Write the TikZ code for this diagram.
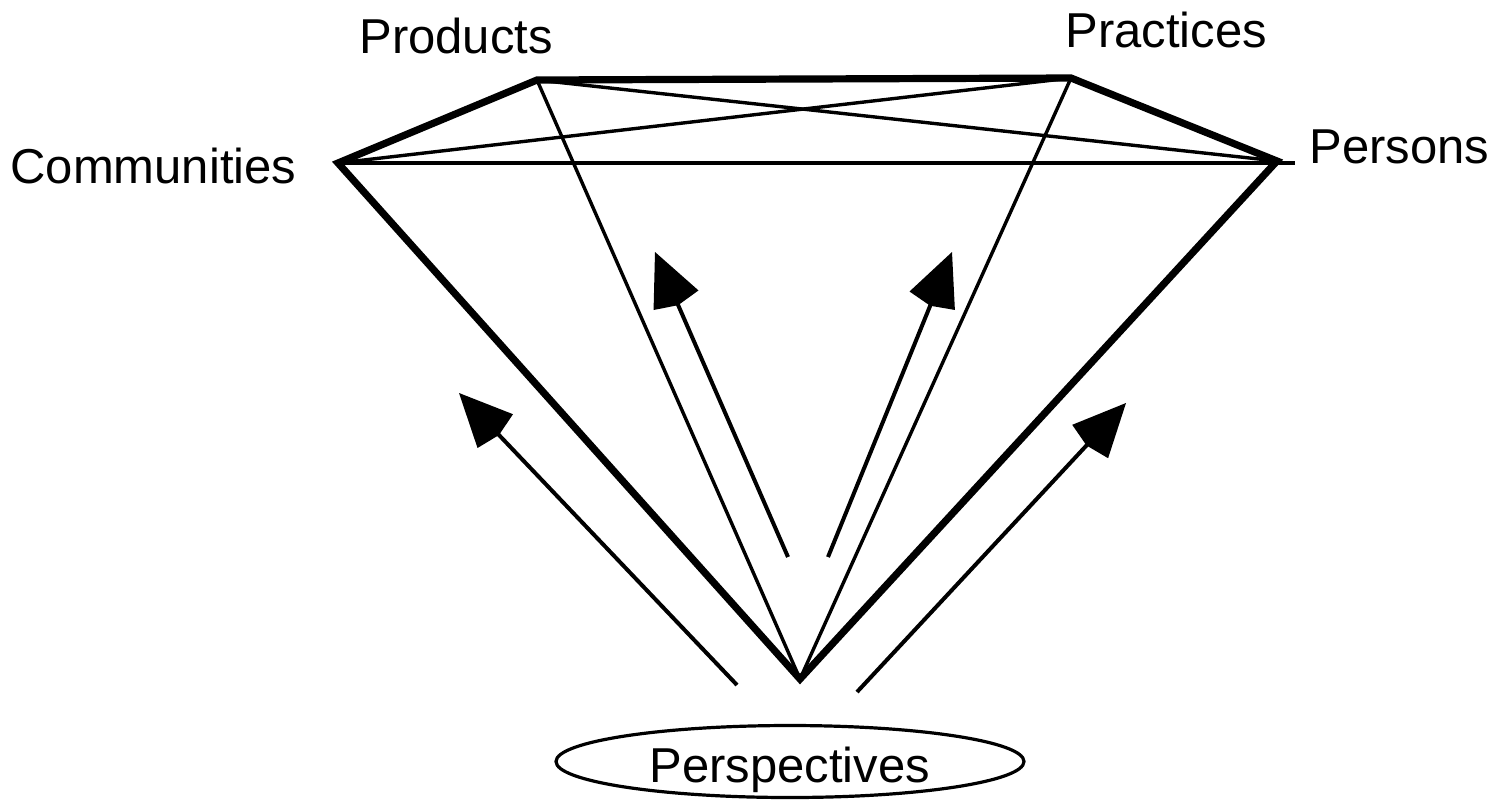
\documentclass[tikz,border=0pt]{standalone}
\usepackage{fontspec}
\setmainfont{Liberation Sans}
\usetikzlibrary{arrows.meta,shapes.geometric}
\tikzset{
  thickedge/.style={line width=3.6pt, line join=miter},
  thinedge/.style={line width=1.7pt},
  bigarrow/.style={line width=2pt, -{Kite[length=29pt 0, width=24.5pt 0, inset=2.7pt 0]}},
  lbl/.style={anchor=base west, inner sep=0pt, font=\fontsize{24.5}{29}\selectfont},
  oval/.style={ellipse, draw, line width=1.6pt, inner sep=0pt, minimum width=234pt, minimum height=36pt}
}
\begin{document}
\begin{tikzpicture}[x=0.5pt,y=-0.5pt]
\useasboundingbox (0,0) rectangle (1499,799);
% vertices
\coordinate (C) at (338,163);
\coordinate (Pd) at (537,80);
\coordinate (Pr) at (1071,78);
\coordinate (Pe) at (1277,161);
\coordinate (B) at (800,679);
\coordinate (H) at (1295,163);
% thin edges
\draw[thinedge] (C) -- (H);
\draw[thinedge] (C) -- (Pr);
\draw[thinedge] (Pd) -- (Pe);
\draw[thinedge] (Pd) -- (B);
\draw[thinedge] (Pr) -- (B);
% thick outline
\draw[thickedge] (B) -- (C) -- (Pd) -- (Pr) -- (Pe) -- cycle;
% arrows
\coordinate (a1s) at (737,685); \coordinate (a1t) at (459,393);
\coordinate (a2s) at (788,557); \coordinate (a2t) at (655,252);
\coordinate (a3s) at (828,557); \coordinate (a3t) at (952,252);
\coordinate (a4s) at (857,692); \coordinate (a4t) at (1126,403);
\draw[bigarrow] (a1s) -- (a1t);
\draw[bigarrow] (a2s) -- (a2t);
\draw[bigarrow] (a3s) -- (a3t);
\draw[bigarrow] (a4s) -- (a4t);
% labels
\node[lbl] (comm) at (10,183) {Communities};
\node[lbl] (prod) at (359,53) {Products};
\node[lbl] (prac) at (1065,47) {Practices};
\node[lbl] (pers) at (1309,163) {Persons};
\node[oval] (ov) at (790,761.5) {};
\node[lbl] (persp) at (649,782) {Perspectives};
\end{tikzpicture}
\end{document}
